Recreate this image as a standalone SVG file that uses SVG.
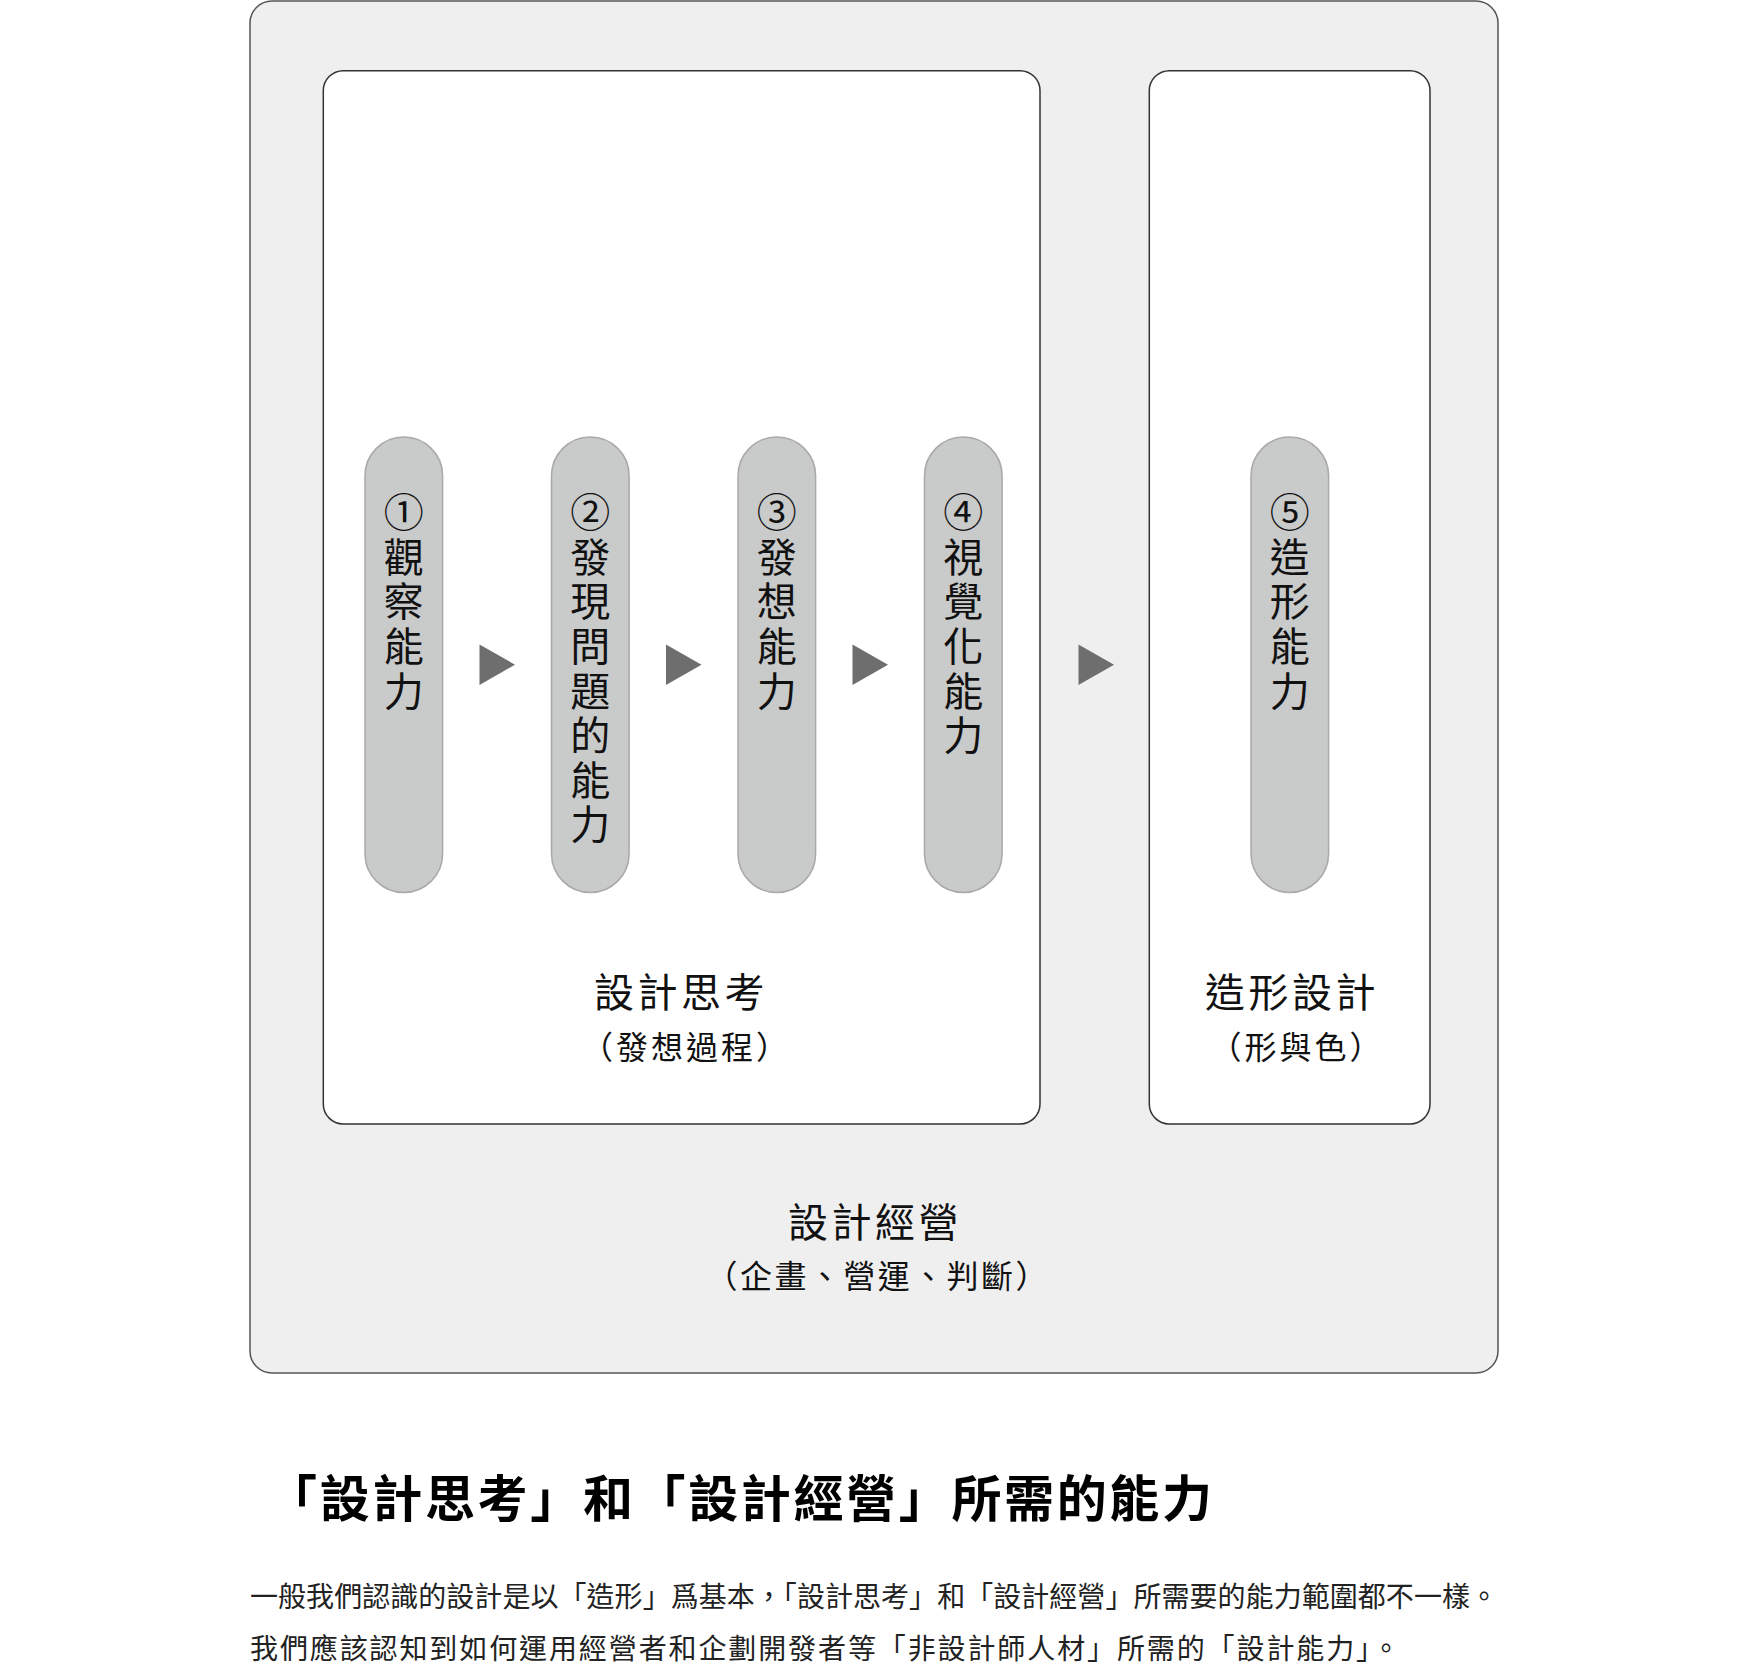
<svg xmlns="http://www.w3.org/2000/svg" width="1748" height="1679" viewBox="0 0 1748 1679">
  <style>
    text { font-family: "Noto Sans CJK TC", "Noto Sans CJK JP", sans-serif; fill: #111; }
    .outer { fill: #efefef; stroke: #555; stroke-width: 1.5; }
    .inner { fill: #ffffff; stroke: #333; stroke-width: 1.5; }
    .pill { fill: #c9caca; stroke: #a9a9a9; stroke-width: 1.5; }
    .vt { font-size: 40px; writing-mode: vertical-rl; letter-spacing: 4.6px; }
    .lbl { font-size: 40px; text-anchor: middle; letter-spacing: 3.5px; }
    .sub { font-size: 32px; text-anchor: middle; letter-spacing: 3px; }
    .arrow { fill: #6e6e6e; }
    .title { font-size: 50px; font-weight: 700; fill: #000; }
    .body { font-size: 28px; fill: #222; }
  </style>
  <defs>
    <polygon id="tri" points="0,0 35.5,20.3 0,40.6"/>
  </defs>

  <g id="node-design-management">
    <rect class="outer" x="250" y="1" width="1248" height="1372" rx="22" ry="22"/>
    <text class="lbl" x="875" y="1237">設計經營</text>
    <text class="sub" x="878" y="1288" textLength="345" lengthAdjust="spacing">（企畫、營運、判斷）</text>
  </g>

  <g id="node-design-thinking">
    <rect class="inner" x="323.3" y="70.7" width="716.7" height="1053.3" rx="20" ry="20"/>
    <text class="lbl" x="681" y="1006.7">設計思考</text>
    <text class="sub" x="686" y="1059">（發想過程）</text>
  </g>

  <g id="node-form-design">
    <rect class="inner" x="1149.3" y="70.7" width="280.7" height="1053.3" rx="20" ry="20"/>
    <text class="lbl" x="1292" y="1006.7">造形設計</text>
    <text class="sub" x="1297" y="1059">（形與色）</text>
  </g>

  <g id="node-1-observation">
    <rect class="pill" x="365" y="437" width="77.6" height="455.5" rx="38.8" ry="38.8"/>
    <text class="vt" x="403.8" y="492">①觀察能力</text>
  </g>

  <g id="node-2-problem-finding">
    <rect class="pill" x="551.5" y="437" width="77.6" height="455.5" rx="38.8" ry="38.8"/>
    <text class="vt" x="590.3" y="492">②發現問題的能力</text>
  </g>

  <g id="node-3-ideation">
    <rect class="pill" x="738" y="437" width="77.6" height="455.5" rx="38.8" ry="38.8"/>
    <text class="vt" x="776.8" y="492">③發想能力</text>
  </g>

  <g id="node-4-visualization">
    <rect class="pill" x="924.5" y="437" width="77.6" height="455.5" rx="38.8" ry="38.8"/>
    <text class="vt" x="963.3" y="492">④視覺化能力</text>
  </g>

  <g id="node-5-form">
    <rect class="pill" x="1251" y="437" width="77.6" height="455.5" rx="38.8" ry="38.8"/>
    <text class="vt" x="1289.8" y="492">⑤造形能力</text>
  </g>

  <g id="connectors">
    <use href="#tri" class="arrow" x="479.5" y="644.4"/>
    <use href="#tri" class="arrow" x="666" y="644.4"/>
    <use href="#tri" class="arrow" x="852.5" y="644.4"/>
    <use href="#tri" class="arrow" x="1078.5" y="644.4"/>
  </g>

  <g id="caption">
    <text class="title" x="267" y="1517" textLength="945" lengthAdjust="spacing">「設計思考」和「設計經營」所需的能力</text>
    <text class="body" x="250" y="1607" textLength="1248" lengthAdjust="spacing">一般我們認識的設計是以「造形」爲基本，「設計思考」和「設計經營」所需要的能力範圍都不一樣。</text>
    <text class="body" x="250" y="1659" textLength="1150" lengthAdjust="spacing">我們應該認知到如何運用經營者和企劃開發者等「非設計師人材」所需的「設計能力」。</text>
  </g>
</svg>
